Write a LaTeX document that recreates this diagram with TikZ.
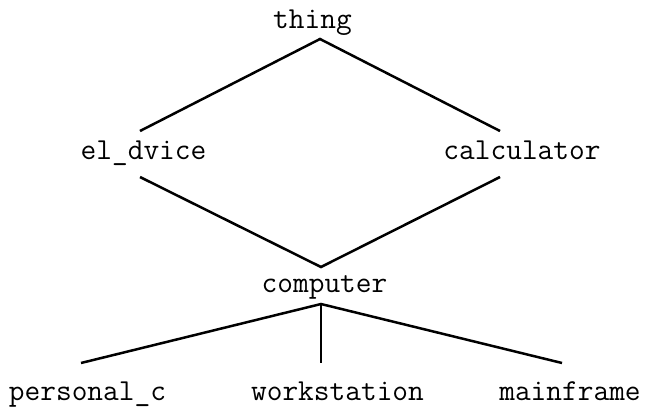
\documentclass[tikz,border=0pt]{standalone}
\usetikzlibrary{calc}

\begin{document}
\begin{tikzpicture}[x=0.4pt, y=-0.4pt,
    item/.style={inner sep=0pt, anchor=base, font=\fontsize{12.2}{14}\selectfont\ttfamily},
    link/.style={line width=1pt}]
    \useasboundingbox (0,0) rectangle (647,407);

    % Top
    \node[item] (thing) at (312.5,28) {thing};

    % Middle level
    \node[item] (eldev) at (143.5,159) {el\_dvice};
    \node[item] (calc) at (522,159) {calculator};
    \node[item] (comp) at (324.5,292) {computer};

    % Bottom level
    \node[item] (pc) at (87.5,400) {personal\_c};
    \node[item] (ws) at (337.5,400) {workstation};
    \node[item] (mf) at (570,400) {mainframe};

    % Links
    \draw[link] ($(eldev.base)+(-3.5,-28)$) -- ($(thing.base)+(7.5,11)$) -- ($(calc.base)+(-22,-28)$);
    \draw[link] ($(eldev.base)+(-3.5,18)$) -- ($(comp.base)+(-3.5,-25)$) -- ($(calc.base)+(-22,18)$);
    \draw[link] ($(pc.base)+(-6.5,-37)$) -- ($(comp.base)+(-3.5,12)$) -- ($(mf.base)+(-8,-37)$);
    \draw[link] ($(comp.base)+(-3.5,12)$) -- ($(ws.base)+(-16.5,-37)$);
\end{tikzpicture}
\end{document}
